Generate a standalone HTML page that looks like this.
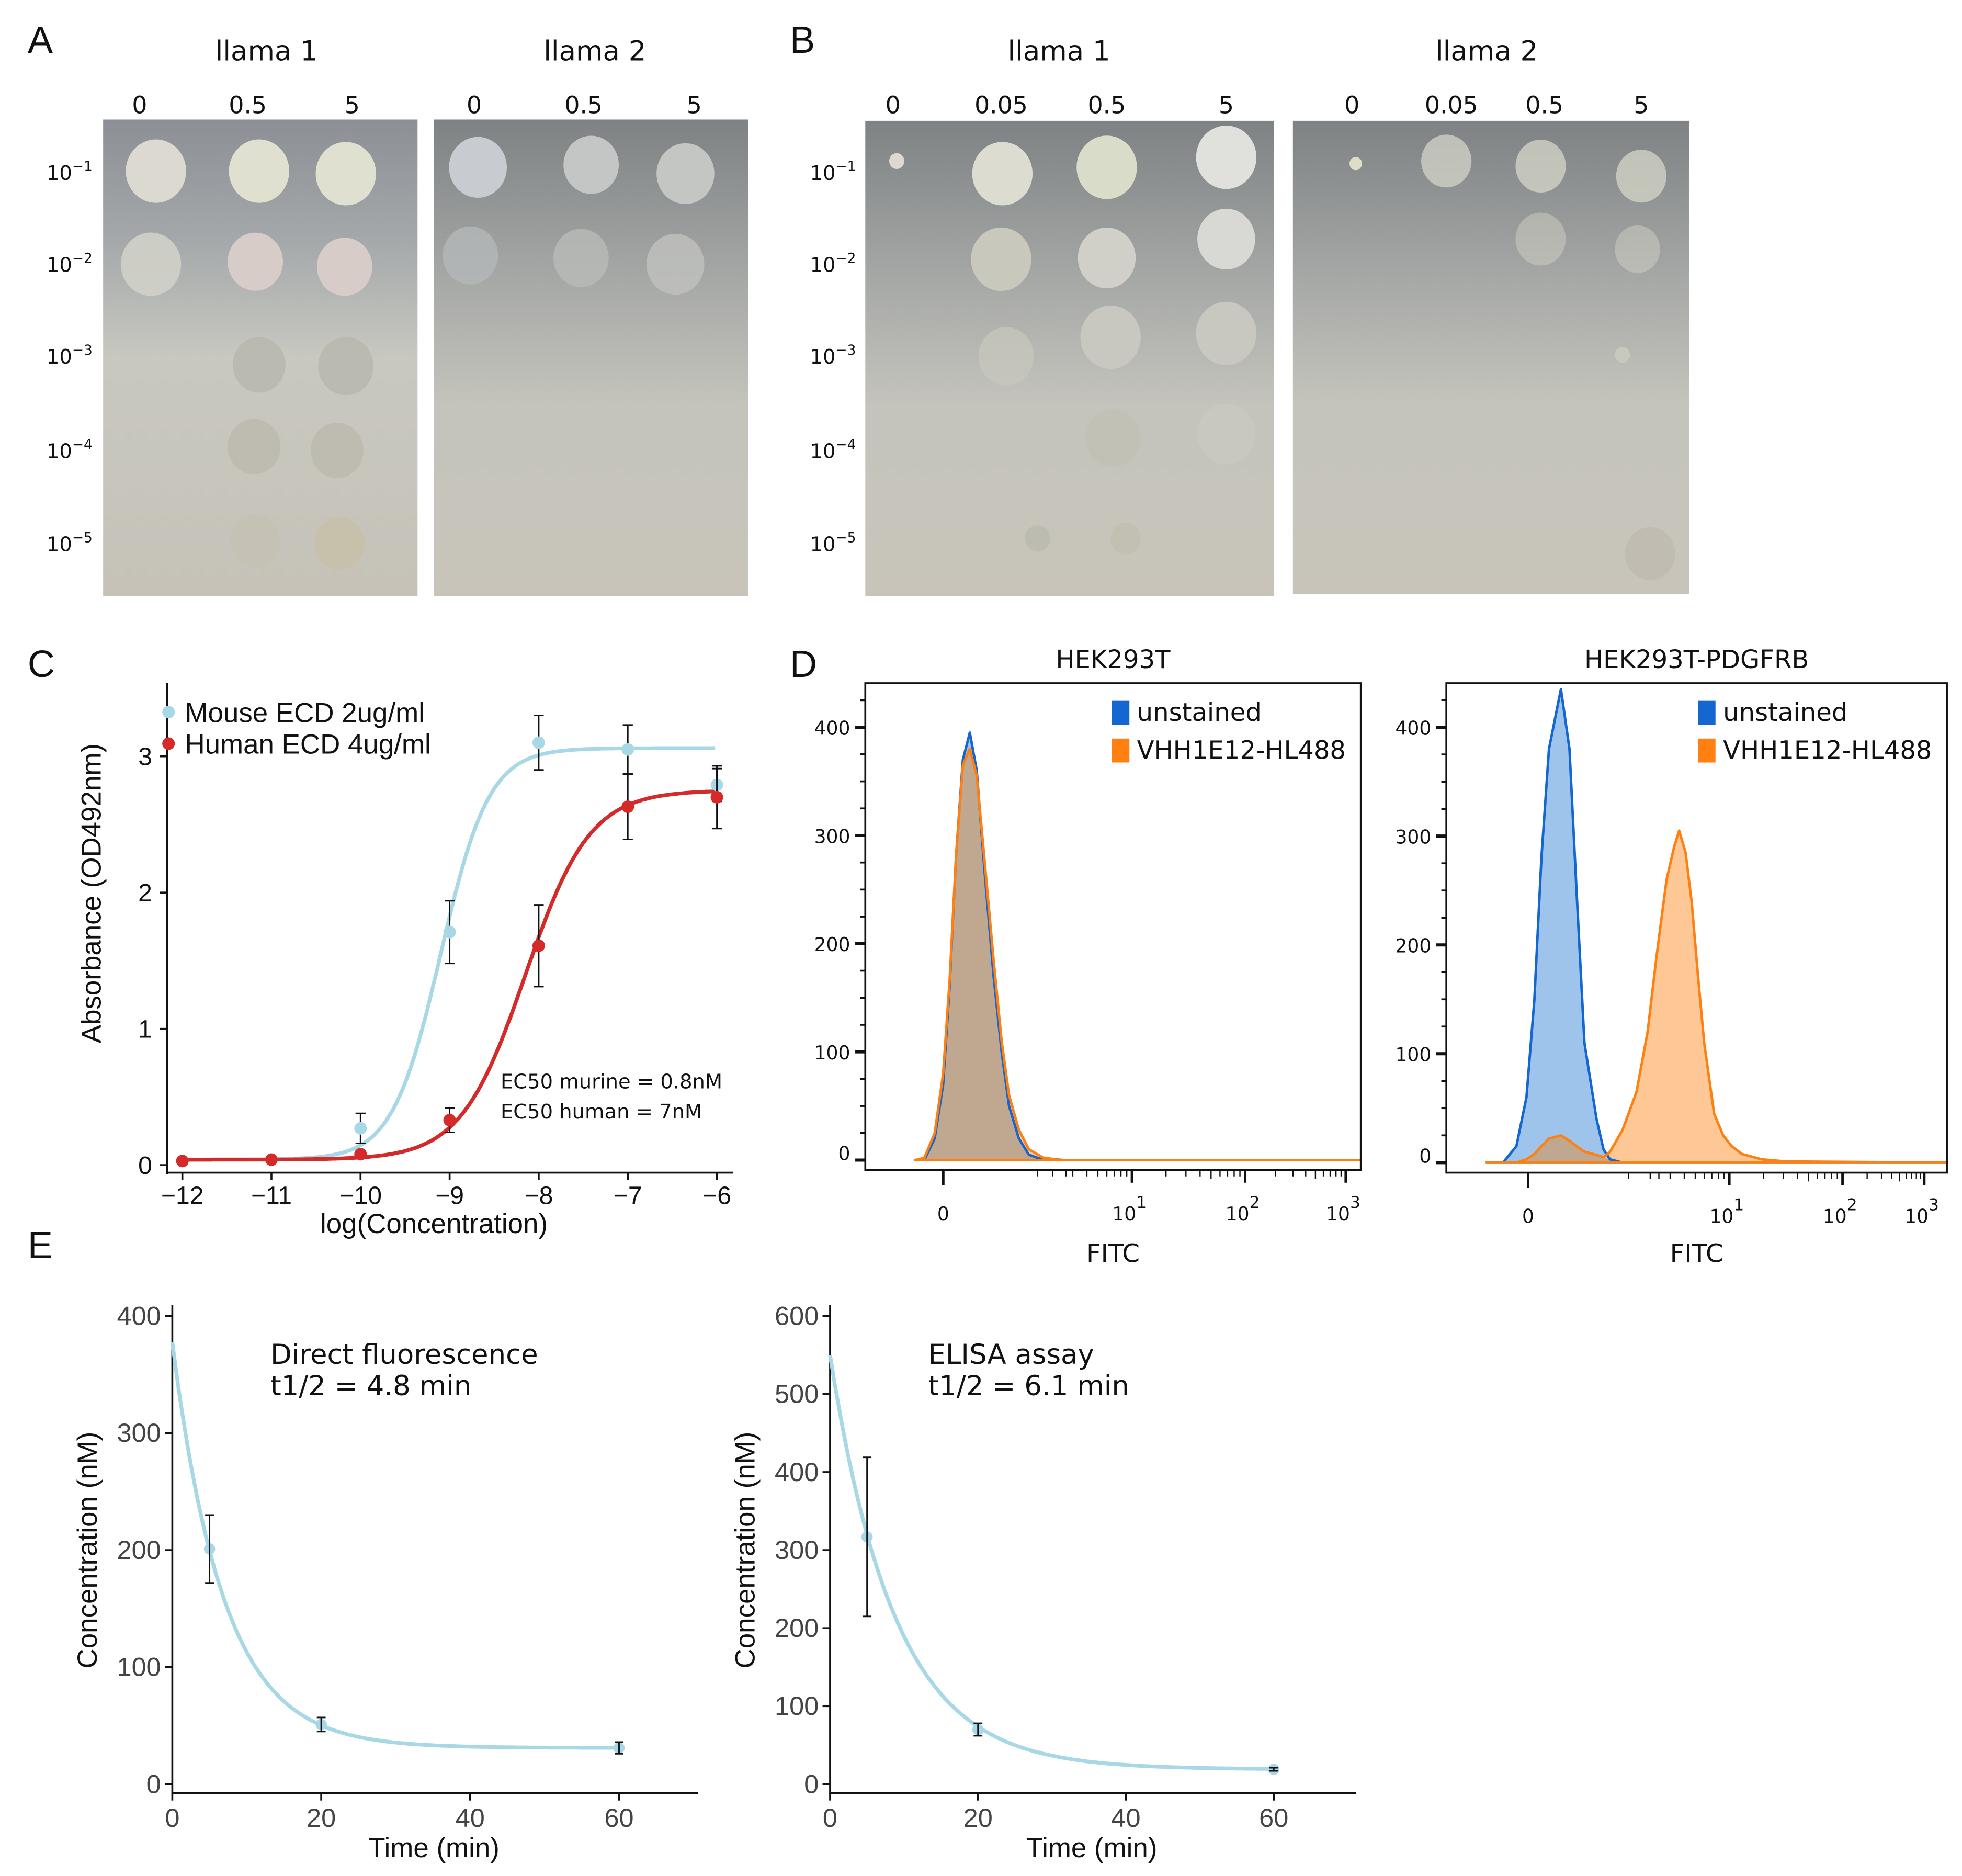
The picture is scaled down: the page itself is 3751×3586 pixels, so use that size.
<!DOCTYPE html>
<html><head><meta charset="utf-8"><style>
html,body{margin:0;padding:0;background:#fff}
svg{display:block}
text{font-family:"Liberation Sans",sans-serif}
.nf{font-family:"DejaVu Sans","Liberation Sans",sans-serif}
</style></head><body>
<svg id="fig" width="3751" height="3586" viewBox="0 0 1560 1491" preserveAspectRatio="none" xmlns="http://www.w3.org/2000/svg">
<defs>
<linearGradient id="plateA" x1="0" y1="0" x2="0" y2="1"><stop offset="0" stop-color="#8c9096"/><stop offset="0.25" stop-color="#a4a8aa"/><stop offset="0.5" stop-color="#c8c8c0"/><stop offset="1" stop-color="#c6c2b8"/></linearGradient>
<linearGradient id="plateB" x1="0" y1="0" x2="0" y2="1"><stop offset="0" stop-color="#7e8284"/><stop offset="0.35" stop-color="#a8aaa8"/><stop offset="0.6" stop-color="#c4c4bc"/><stop offset="1" stop-color="#c8c4ba"/></linearGradient>
</defs>
<g id="root"></g>
</svg>
<script>
// ---------------- Panel C data ----------------
const cX=[-12,-11,-10,-9,-8,-7,-6];
const mouseY=[0.03,0.04,0.27,1.71,3.10,3.05,2.79];
const mouseErr=[0,0,0.11,0.23,0.20,0.18,0.12];
const humanY=[0.03,0.04,0.08,0.33,1.61,2.63,2.70];
const humanErr=[0,0,0.02,0.09,0.30,0.24,0.23];
const mouseFit=[0.04,3.06,-9.1,1.6]; // bottom, top, logEC50, hill
const humanFit=[0.04,2.75,-8.15,1.2];
const cXTicks=[-12,-11,-10,-9,-8,-7,-6];
const cYTicks=[0,1,2,3];
// ---------------- Panel D data ----------------
const dYTicks=[0,100,200,300,400];
const d1Bins=[100,119,140,157,170,183,197,211,225,240,259,275,290,310,330,360,400,1000];
const d1Blue=[0,0,20,70,160,280,370,395,360,270,170,100,50,20,5,0,0,0];
const d1Orange=[0,2,25,80,165,280,365,380,355,280,185,110,60,28,10,2,0,0];
const d2Bins=[80,113,140,160,176,190,205,229,246,260,276,300,314,327,352,380,402,420,440,455,465,478,490,503,515,535,553,570,590,630,678,1000];
const d2Blue=[0,0,15,60,150,280,380,435,380,250,110,40,12,3,0,0,0,0,0,0,0,0,0,0,0,0,0,0,0,0,0,0];
const d2Orange=[0,0,0,3,8,15,22,25,20,15,10,7,5,10,30,65,120,190,260,290,305,285,240,170,110,45,25,15,8,3,1,0];
// ---------------- Panel E data ----------------
const e1T=[5,20,60], e1Y=[201,51,31], e1Err=[29,6,5], e1Fit=[31,347,4.8];
const e2T=[5,20,60], e2Y=[317,70,19], e2Err=[102,8,2], e2Fit=[19,531,6.1];
const eXTicks=[0,20,40,60];
const e1YTicks=[0,100,200,300,400];
const e2YTicks=[0,100,200,300,400,500,600];

const NS="http://www.w3.org/2000/svg";
const root=document.getElementById('root');
function mk(tag,attrs,parent,txt){const e=document.createElementNS(NS,tag);for(const k in attrs)e.setAttribute(k,attrs[k]);if(txt!==undefined)e.textContent=txt;(parent||root).appendChild(e);return e;}
function grp(name,parent){const g=mk('g',{},parent);return g;}
function label(parent,name,x,y,s,size,anchor,extra){const t=mk('text',Object.assign({x:x,y:y,'font-size':size,'text-anchor':anchor||'middle',fill:'#111'},extra||{}),parent,s);return t;}

// Panel letters
[['A',22,42],['B',628,42],['C',22,538],['D',628,538],['E',22,1000]].forEach(p=>{label(root,'panel-letter-'+p[0].toLowerCase(),p[1],p[2],p[0],30,'start');});

// ---------------- Panels A & B (plate photos) ----------------
function plate(name,x0,x1,y0,y1,fill,cols,spots){
  const g=grp(name);
  const r=mk('rect',{x:x0,y:y0,width:x1-x0,height:y1-y0,fill:fill},g);
  
  spots.forEach(s=>{const c=mk('ellipse',{cx:s[0],cy:s[1],rx:s[2],ry:s[2]*1.05,fill:s[3],opacity:s[4]||1,stroke:s[5]||'none','stroke-width':2},g);});
  return g;
}
const rowsY=[137,210,283,358,432];
const rowLbl=['−1','−2','−3','−4','−5'];
function rowLabels(x){rowsY.forEach((y,i)=>{const t=label(root,'dilution-label',x,y+6,'10',16,'start',{'class':'nf'});const s=mk('tspan',{dy:-7,'font-size':11},t,rowLbl[i]);});}
rowLabels(37);rowLabels(644);
function colLabels(xs,ls){xs.forEach((x,i)=>label(root,'concentration-label',x,90,ls[i],19,'middle',{'class':'nf'}));}
label(root,'plate-title-a-llama1',212,48,'llama 1',22,'middle',{'class':'nf'});
label(root,'plate-title-a-llama2',473,48,'llama 2',22,'middle',{'class':'nf'});
label(root,'plate-title-b-llama1',842,48,'llama 1',22,'middle',{'class':'nf'});
label(root,'plate-title-b-llama2',1182,48,'llama 2',22,'middle',{'class':'nf'});
colLabels([111,197,280],['0','0.5','5']);colLabels([377,464,552],['0','0.5','5']);
colLabels([710,796,880,975],['0','0.05','0.5','5']);colLabels([1075,1154,1228,1305],['0','0.05','0.5','5']);
const L='#dcdad0',P='#d8ccc8',G='#b8b6ac';
plate('plate-a-llama1',82,332,95,474,'url(#plateA)',0,[[124,136,24,L],[206,136,24,'#e0e0d0'],[275,138,24,'#e0e0d0'],[120,210,24,'#d0d0c8',0.9],[203,208,22,P],[274,212,22,P],[206,290,21,G,0.8],[275,291,22,G,0.8],[202,355,21,'#bcbaae',0.9],[268,358,21,'#bcbaae',0.9],[203,430,20,'#c4c2b4',0.8],[270,432,20,'#c6c0a8',0.9]]);
plate('plate-a-llama2',345,595,95,474,'url(#plateB)',0,[[380,133,23,'#c8ccd0'],[470,131,22,'#c4c6c6'],[545,138,23,'#c4c6c4'],[374,203,22,'#b4b8b8',0.8],[462,205,22,'#b8bcb8',0.8],[537,210,23,'#c0c2be',0.8]]);
plate('plate-b-llama1',688,1013,96,474,'url(#plateB)',0,[[713,128,6,L],[797,138,24,'#dcdcd0'],[880,133,24,'#d8dcc8'],[975,125,24,'#e0e0dc'],[796,206,24,'#c8c8bc'],[880,205,23,'#d0d0c8'],[975,190,23,'#d8d8d4'],[800,283,22,'#c8c8bc',0.7],[883,268,24,'#c8c8c0'],[975,265,24,'#c8c8c0'],[885,348,22,'#c0c0b4',0.8],[975,345,23,'#c8c8c0'],[825,428,10,'#bdbcb0'],[895,428,12,'#c0beb2',0.8]]);
plate('plate-b-llama2',1028,1343,96,472,'url(#plateB)',0,[[1078,130,5,'#e0dcc8'],[1150,128,20,'#d8d8cc',0.7],[1225,132,20,'#dcdccc',0.7],[1305,140,20,'#dcdccc',0.7],[1225,190,20,'#d0d0c4',0.5],[1302,198,18,'#d0d0c4',0.5],[1290,282,6,'#c8c8bc'],[1312,440,20,'#bfbab0',0.8]]);

// ---------------- Panel C ----------------
(function(){
  const g=grp('panel-c-dose-response');
  const sx=v=>145+(v+12)*(570-145)/6, sy=v=>926-v*108.3;
  const ax=grp('c-axes',g);
  mk('line',{x1:133,y1:543,x2:133,y2:933,stroke:'#111','stroke-width':1.5},ax);
  mk('line',{x1:133,y1:932,x2:583,y2:932,stroke:'#111','stroke-width':1.5},ax);
  cXTicks.forEach(v=>{mk('line',{x1:sx(v),y1:932,x2:sx(v),y2:938,stroke:'#111','stroke-width':1.5},ax);label(ax,'c-x-tick-label',sx(v),957,String(v).replace('-','−'),20,'middle');});
  cYTicks.forEach(v=>{mk('line',{x1:127,y1:sy(v),x2:133,y2:sy(v),stroke:'#111','stroke-width':1.5},ax);label(ax,'c-y-tick-label',121,sy(v)+7,String(v),20,'end');});
  label(g,'c-x-axis-title',345,980,'log(Concentration)',22);
  label(g,'c-y-axis-title',0,0,'Absorbance (OD492nm)',22,'middle',{transform:'translate(80,710) rotate(-90)'});
  function curve(p,col,name){let d='';for(let x=-12;x<=-6.0001;x+=0.02){const y=p[0]+(p[1]-p[0])/(1+Math.pow(10,(p[2]-x)*p[3]));d+=(d?'L':'M')+sx(x).toFixed(1)+','+sy(y).toFixed(1);}
    const c=mk('path',{d:d,fill:'none',stroke:col,'stroke-width':3},g);}
  function pts(ys,errs,col,name){ys.forEach((y,i)=>{const x=sx(cX[i]);if(errs[i]>0.03){mk('line',{x1:x,y1:sy(y-errs[i]),x2:x,y2:sy(y+errs[i]),stroke:'#111','stroke-width':1.2},g);[y-errs[i],y+errs[i]].forEach(v=>mk('line',{x1:x-4,y1:sy(v),x2:x+4,y2:sy(v),stroke:'#111','stroke-width':1.2},g));}
    const c=mk('circle',{cx:x,cy:sy(y),r:5,fill:col},g);});}
  curve(mouseFit,'#a8d8e6','mouse-fit-curve');curve(humanFit,'#d42a2a','human-fit-curve');
  pts(mouseY,mouseErr,'#a8d8e6','mouse-point');pts(humanY,humanErr,'#d42a2a','human-point');
  const lg=grp('c-legend',g);
  mk('circle',{cx:134,cy:566,r:5,fill:'#a8d8e6'},lg);label(lg,'legend-mouse',147,574,'Mouse ECD 2ug/ml',22,'start');
  mk('circle',{cx:134,cy:591,r:5,fill:'#d42a2a'},lg);label(lg,'legend-human',147,599,'Human ECD 4ug/ml',22,'start');
  label(g,'ec50-murine-label',398,865,'EC50 murine =  0.8nM',16,'start',{'class':'nf'});
  label(g,'ec50-human-label',398,889,'EC50 human =  7nM',16,'start',{'class':'nf'});
})();

// ---------------- Panel D ----------------
function hist(name,title,x0,x1,y0,y1,zeroY,per100,xt,bins,blue,orange){
  const g=grp(name);
  const sx=v=>x0+v*(x1-x0)/1000, sy=v=>zeroY-v*per100/100;
  label(g,name+'-title',(x0+x1)/2,531,title,20,'middle',{'class':'nf'});
  function area(vals,fill,stroke,nm){let d='M'+sx(bins[0])+','+sy(0);bins.forEach((b,i)=>{d+='L'+sx(b).toFixed(1)+','+sy(vals[i]).toFixed(1);});d+='L'+sx(bins[bins.length-1])+','+sy(0)+'Z';
    const p=mk('path',{d:d,fill:fill,stroke:stroke,'stroke-width':stroke==='none'?0:2,'stroke-linejoin':'round'},g);}
  area(blue,'#9ec4ec','none','unstained-fill');area(orange,'#fdc896','none','stained-fill');
  area(blue.map((v,i)=>Math.min(v,orange[i])),'#c0a890','none','overlap-fill');
  area(blue,'none','#1466d0','unstained-outline');area(orange,'none','#ff8010','stained-outline');
  const ax=grp(name+'-axes',g);
  mk('rect',{x:x0,y:y0,width:x1-x0,height:y1-y0,fill:'none',stroke:'#111','stroke-width':1.5},ax);
  for(let v=0;v<=425;v+=25){const big=v%100===0;mk('line',{x1:x0-(big?8:4),y1:sy(v),x2:x0,y2:sy(v),stroke:'#111','stroke-width':big?2.5:1.5},ax);}
  dYTicks.forEach(v=>label(ax,'d-y-tick-label',x0-12,sy(v)+(v===0?0:6),String(v),15,'end',{'class':'nf'}));
  const zx=xt[0];mk('line',{x1:zx,y1:y1,x2:zx,y2:y1+12,stroke:'#111','stroke-width':2},ax);
  label(ax,'d-x-tick-label',zx,y1+40,'0',15,'middle',{'class':'nf'});
  [1,2,3].forEach(k=>{const x=xt[k];mk('line',{x1:x,y1:y1,x2:x,y2:y1+10,stroke:'#111','stroke-width':2},ax);
    const t=label(ax,'d-x-tick-label',x-2,y1+40,'10',15,'middle',{'class':'nf'});mk('tspan',{dy:-10,'font-size':13},t,String(k));
    const prev=k===1?(zx+x)/2+20:xt[k-1];for(let m=2;m<10;m++){const xm=k===1?null:prev+(x-prev)*Math.log10(m);if(xm)mk('line',{x1:xm,y1:y1,x2:xm,y2:y1+(m===5?7:5),stroke:'#111','stroke-width':1},ax);}
  });
  for(let m=2;m<10;m++){const xm=xt[1]-(xt[2]-xt[1])*(1-Math.log10(m));mk('line',{x1:xm,y1:y1,x2:xm,y2:y1+5,stroke:'#111','stroke-width':1},ax);}
  for(let m=1;m<3;m++){const xm=zx+(xt[1]-zx)*(0.35+m*0.15);mk('line',{x1:xm,y1:y1,x2:xm,y2:y1+5,stroke:'#111','stroke-width':1},ax);}
  label(g,name+'-x-axis-title',(x0+x1)/2,1003,'FITC',20,'middle',{'class':'nf'});
  const lg=grp(name+'-legend',g);const lx=x1-198;
  mk('rect',{x:lx,y:557,width:14,height:19,fill:'#1466d0'},lg);label(lg,'legend-unstained',lx+20,573,'unstained',20,'start',{'class':'nf'});
  mk('rect',{x:lx,y:587,width:14,height:19,fill:'#ff8010'},lg);label(lg,'legend-vhh1e12',lx+20,603,'VHH1E12-HL488',20,'start',{'class':'nf'});
}
hist('panel-d-hek293t','HEK293T',688,1082,543,930,922,86,[750,900,990,1070],d1Bins,d1Blue,d1Orange);
hist('panel-d-hek293t-pdgfrb','HEK293T-PDGFRB',1150,1548,543,932,924,86.5,[1215,1375,1465,1530],d2Bins,d2Blue,d2Orange);

// ---------------- Panel E ----------------
function pk(name,x0,zeroY,ppu,xpp,ticks,T,Y,E,fit,txt1,txt2){
  const g=grp(name);
  const sx=v=>x0+v*xpp, sy=v=>zeroY-v*ppu;
  const ax=grp(name+'-axes',g);
  mk('line',{x1:x0,y1:1037,x2:x0,y2:1426,stroke:'#111','stroke-width':1.5},ax);
  mk('line',{x1:x0,y1:1425,x2:x0+418,y2:1425,stroke:'#111','stroke-width':1.5},ax);
  ticks.forEach(v=>{mk('line',{x1:x0-6,y1:sy(v),x2:x0,y2:sy(v),stroke:'#111','stroke-width':1.5},ax);label(ax,'e-y-tick-label',x0-9,sy(v)+7,String(v),21,'end',{fill:'#444'});});
  eXTicks.forEach(v=>{mk('line',{x1:sx(v),y1:1425,x2:sx(v),y2:1431,stroke:'#111','stroke-width':1.5},ax);label(ax,'e-x-tick-label',sx(v),1452,String(v),21,'middle',{fill:'#444'});});
  label(g,name+'-x-axis-title',x0+208,1476,'Time (min)',22);
  label(g,name+'-y-axis-title',0,0,'Concentration (nM)',22,'middle',{transform:'translate('+(x0-60)+',1232) rotate(-90)'});
  const k=Math.LN2/fit[2];let d='';for(let t=0;t<=60.0001;t+=0.25){d+=(d?'L':'M')+sx(t).toFixed(1)+','+sy(fit[0]+fit[1]*Math.exp(-k*t)).toFixed(1);}
  const c=mk('path',{d:d,fill:'none',stroke:'#a8d8e6','stroke-width':3},g);
  T.forEach((t,i)=>{const x=sx(t);const p=mk('circle',{cx:x,cy:sy(Y[i]),r:4.5,fill:'#a8d8e6'},g);
    mk('line',{x1:x,y1:sy(Y[i]-E[i]),x2:x,y2:sy(Y[i]+E[i]),stroke:'#111','stroke-width':1.2},g);
    [Y[i]-E[i],Y[i]+E[i]].forEach(v=>mk('line',{x1:x-3.5,y1:sy(v),x2:x+3.5,y2:sy(v),stroke:'#111','stroke-width':1.2},g));});
  label(g,name+'-method-label',x0+78,1084,txt1,22,'start',{'class':'nf'});
  label(g,name+'-halflife-label',x0+78,1109,txt2,22,'start',{'class':'nf'});
}
pk('panel-e-direct-fluorescence',137,1418,0.93,5.92,e1YTicks,e1T,e1Y,e1Err,e1Fit,'Direct fluorescence','t1/2 = 4.8 min');
pk('panel-e-elisa',660,1418,0.62,5.88,e2YTicks,e2T,e2Y,e2Err,e2Fit,'ELISA assay','t1/2 = 6.1 min');
</script>
</body></html>
